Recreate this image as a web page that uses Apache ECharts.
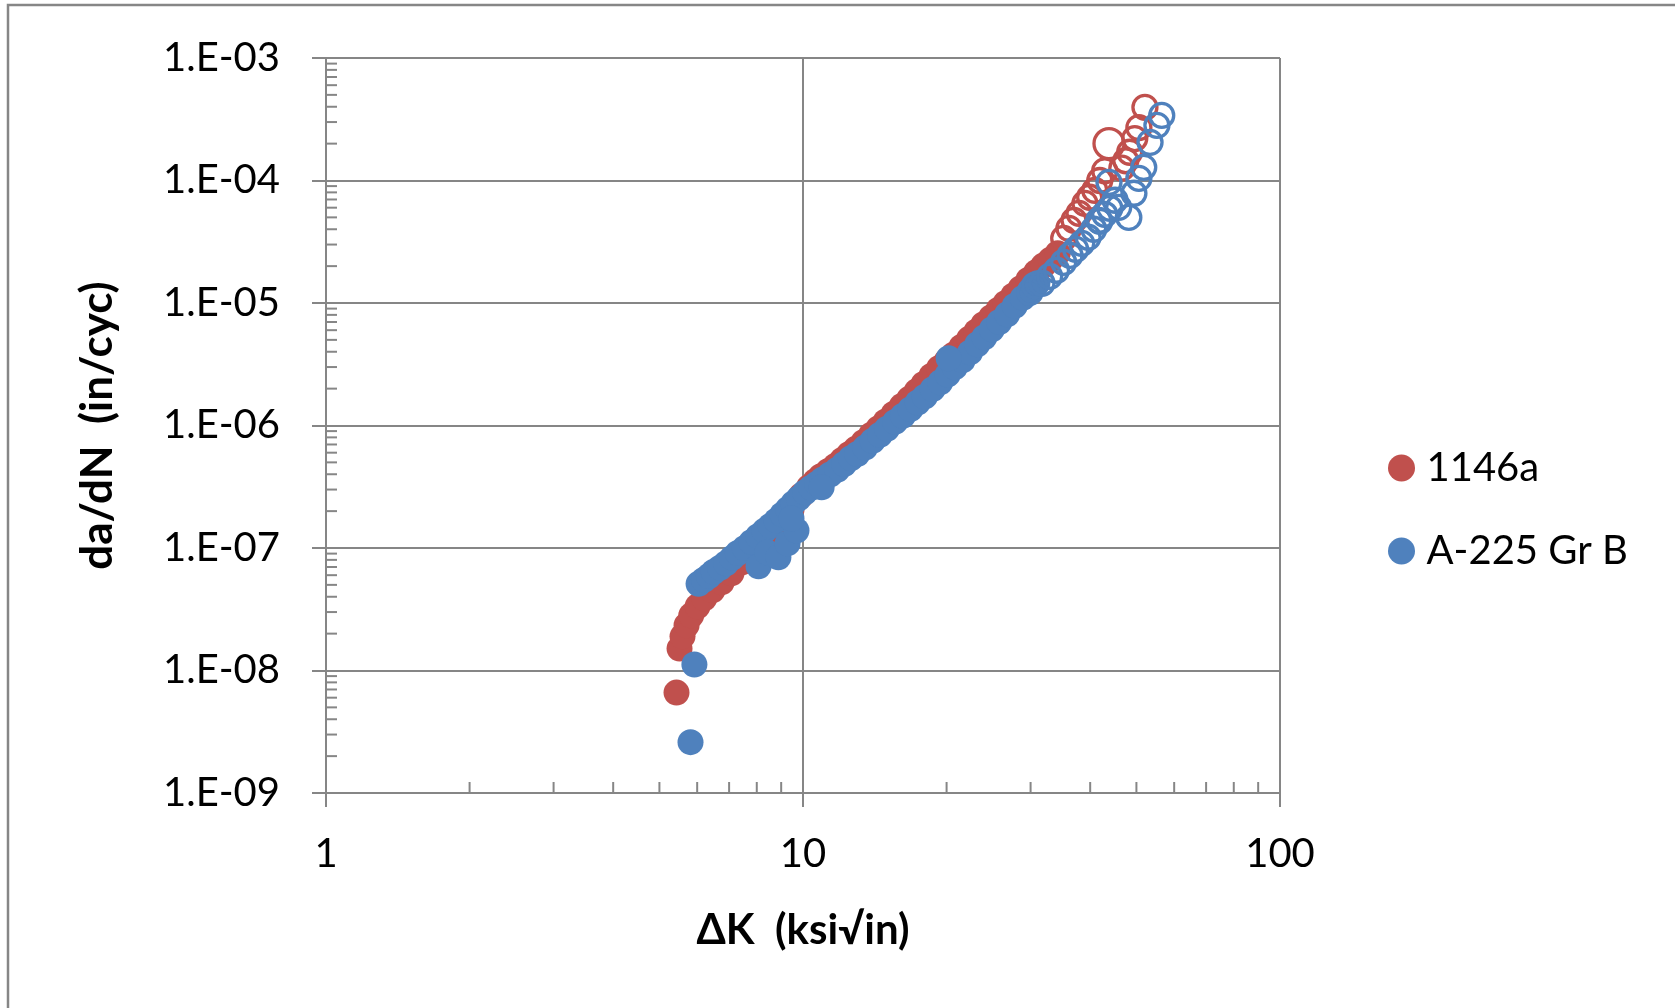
<!DOCTYPE html>
<html><head><meta charset="utf-8">
<script src="https://cdn.jsdelivr.net/npm/echarts@6.0.0/dist/echarts.min.js"></script>
<style>html,body{margin:0;padding:0;background:#fff}#c{width:1675px;height:1008px}</style>
</head><body><div id="c"></div>
<script>
// ---- data ----
const seriesNames = ['1146a', 'A-225 Gr B'];
const xTickLabels = ['1', '10', '100'];
const yTickLabels = ['1.E-09', '1.E-08', '1.E-07', '1.E-06', '1.E-05', '1.E-04', '1.E-03'];
const xTitle = 'ΔK  (ksi√in)';
const yTitle = 'da/dN  (in/cyc)';

// 1146a, filled markers [ΔK, da/dN]
const redSolid = [[5.43,6.6e-9],[5.51,1.51e-8],[5.59,1.90e-8],[5.70,2.34e-8],[5.83,2.82e-8],[6.01,3.34e-8],[6.21,3.88e-8],[6.46,4.51e-8],[6.75,5.24e-8],[7.08,6.21e-8],[7.43,7.6e-8],[7.80,9.0e-8],[8.18,1.07e-7],[8.59,1.28e-7],[9.01,1.58e-7],[9.46,2.05e-7],[9.93,2.70e-7],[10.3,3.15e-7],[10.6,3.50e-7],[10.9,3.85e-7],[11.3,4.25e-7],[11.7,4.70e-7],[12.1,5.25e-7],[12.5,5.85e-7],[12.9,6.45e-7],[13.4,7.35e-7],[13.9,8.40e-7],[14.4,9.50e-7],[14.9,1.08e-6],[15.5,1.25e-6],[16.1,1.44e-6],[16.7,1.65e-6],[17.3,1.90e-6],[17.9,2.18e-6],[18.6,2.55e-6],[19.3,2.95e-6],[20.0,3.35e-6],[20.7,3.80e-6],[21.5,4.40e-6],[22.3,5.10e-6],[23.1,5.85e-6],[23.9,6.70e-6],[24.8,7.65e-6],[25.7,8.80e-6],[26.6,1.00e-5],[27.6,1.15e-5],[28.6,1.32e-5],[29.7,1.55e-5],[30.8,1.78e-5],[31.9,2.02e-5],[33.0,2.25e-5],[34.2,2.55e-5]];
// 1146a, open markers
const redOpen = [[35.2,3.37e-5],[36.1,4.07e-5],[37.0,4.73e-5],[37.9,5.4e-5],[39.0,6.5e-5],[39.9,7.3e-5],[40.9,8.3e-5],[41.9,1.0e-4],[42.9,1.2e-4],[46.6,1.26e-4],[47.5,1.45e-4],[48.4,1.7e-4],[43.8,2.0e-4],[49.6,2.2e-4],[50.6,2.7e-4],[52.1,3.96e-4]];
// A-225 Gr B, filled markers
const blueSolid = [[5.81,2.6e-9],[5.92,1.12e-8],[6.04,5.1e-8],[6.2,5.5e-8],[6.35,5.9e-8],[6.5,6.4e-8],[6.7,6.9e-8],[6.9,7.5e-8],[7.1,8.3e-8],[7.3,9.1e-8],[7.55,1.0e-7],[7.8,1.12e-7],[8.05,1.25e-7],[8.3,1.38e-7],[8.55,1.52e-7],[8.8,1.68e-7],[9.05,1.88e-7],[9.3,2.08e-7],[9.55,2.32e-7],[9.8,2.55e-7],[10.1,2.85e-7],[10.4,3.10e-7],[10.7,3.35e-7],[11.0,3.62e-7],[11.4,3.98e-7],[11.8,4.35e-7],[12.2,4.85e-7],[12.6,5.40e-7],[13.0,5.85e-7],[13.5,6.60e-7],[14.0,7.50e-7],[14.5,8.40e-7],[15.0,9.40e-7],[15.6,1.07e-6],[16.2,1.20e-6],[16.8,1.36e-6],[17.4,1.54e-6],[18.0,1.72e-6],[18.7,1.98e-6],[19.4,2.25e-6],[20.1,2.60e-6],[20.8,2.98e-6],[21.6,3.40e-6],[22.4,3.95e-6],[23.2,4.60e-6],[24.0,5.25e-6],[24.9,6.10e-6],[25.8,7.00e-6],[26.8,8.10e-6],[27.8,9.50e-6],[28.9,1.10e-5],[30.0,1.28e-5],[31.0,1.45e-5],[8.07,7.1e-8],[8.42,9.2e-8],[8.88,8.4e-8],[9.28,1.09e-7],[9.69,1.39e-7],[9.46,1.74e-7],[10.94,3.13e-7],[20.2,3.54e-6]];
// A-225 Gr B, open markers
const blueOpen = [[29.9,1.22e-5],[30.6,1.39e-5],[31.7,1.45e-5],[32.9,1.65e-5],[34.0,1.85e-5],[35.2,2.15e-5],[36.3,2.45e-5],[37.3,2.74e-5],[38.4,3.07e-5],[39.6,3.44e-5],[40.7,4.0e-5],[41.9,4.65e-5],[42.9,5.3e-5],[44.0,5.93e-5],[45.1,6.9e-5],[41.7,4.73e-5],[45.9,6.04e-5],[48.2,5.0e-5],[43.8,9.66e-5],[49.4,7.87e-5],[50.6,1.04e-4],[51.8,1.28e-4],[53.4,2.05e-4],[55.2,2.82e-4],[56.5,3.40e-4]];

// ---- styling ----
const RED = '#C0504D', BLUE = '#4F81BD', GRID = '#868686';
const FONT = 'Lato';
const bigRedRing = 12; // index in redOpen drawn larger

// minor tick positions on log axes (axis decoration)
const minorMult = [2,3,4,5,6,7,8,9];
const yMinor = [], xMinor = [];
for (let e = -9; e < -3; e++) minorMult.forEach(m => yMinor.push([1, m * Math.pow(10, e)]));
for (let e = 0; e < 2; e++) minorMult.forEach(m => xMinor.push([m * Math.pow(10, e), 1e-9]));

const chart = echarts.init(document.getElementById('c'), null, {renderer: 'canvas'});
const axisLineStyle = {color: GRID, width: 2};
chart.setOption({
  animation: false,
  backgroundColor: '#fff',
  textStyle: {fontFamily: FONT},
  graphic: [{type: 'rect', shape: {x: 8, y: 5, width: 2000, height: 2000}, style: {fill: 'none', stroke: GRID, lineWidth: 2.5}, silent: true}],
  grid: {left: 326, top: 58, width: 954, height: 735},
  legend: {
    data: seriesNames, orient: 'vertical', left: 1383, top: 443,
    itemWidth: 40, itemHeight: 27, itemGap: 43, icon: 'circle',
    textStyle: {fontSize: 40, color: '#000', fontFamily: FONT},
    selectedMode: false
  },
  xAxis: {
    type: 'log', logBase: 10, min: 1, max: 100,
    name: xTitle, nameLocation: 'middle', nameGap: 116,
    nameTextStyle: {fontSize: 42, fontWeight: 'bold', color: '#000', fontFamily: FONT},
    axisLine: {show: true, lineStyle: axisLineStyle},
    axisTick: {show: true, length: 14, inside: false, lineStyle: axisLineStyle},
    splitLine: {show: true, lineStyle: axisLineStyle},
    axisLabel: {fontSize: 40, color: '#000', margin: 41, fontFamily: FONT,
      formatter: v => xTickLabels[Math.round(Math.log10(v))]}
  },
  yAxis: {
    type: 'log', logBase: 10, min: 1e-9, max: 1e-3,
    name: yTitle, nameLocation: 'middle', nameGap: 206,
    nameTextStyle: {fontSize: 44, fontWeight: 'bold', color: '#000', fontFamily: FONT},
    axisLine: {show: true, lineStyle: axisLineStyle},
    axisTick: {show: true, length: 14, inside: false, lineStyle: axisLineStyle},
    splitLine: {show: true, lineStyle: axisLineStyle},
    axisLabel: {fontSize: 40, color: '#000', margin: 46, fontFamily: FONT,
      formatter: v => yTickLabels[Math.round(Math.log10(v)) + 9]}
  },
  series: [
    {type: 'custom', name: 'yminor', data: yMinor, silent: true, z: 1,
      renderItem: (p, api) => { const c = api.coord([api.value(0), api.value(1)]);
        return {type: 'line', shape: {x1: c[0], y1: c[1], x2: c[0] + 11, y2: c[1]}, style: {stroke: GRID, lineWidth: 2}}; }},
    {type: 'custom', name: 'xminor', data: xMinor, silent: true, z: 1,
      renderItem: (p, api) => { const c = api.coord([api.value(0), api.value(1)]);
        return {type: 'line', shape: {x1: c[0], y1: c[1], x2: c[0], y2: c[1] - 11}, style: {stroke: GRID, lineWidth: 2}}; }},
    {type: 'scatter', name: seriesNames[0], data: redSolid, symbol: 'circle', symbolSize: 26,
      itemStyle: {color: RED, opacity: 1}, z: 3},
    {type: 'scatter', name: seriesNames[0] + ' (open)', data: redOpen, symbol: 'circle',
      symbolSize: (v, p) => p.dataIndex === bigRedRing ? 30 : 24,
      itemStyle: {color: 'rgba(255,255,255,0)', borderColor: RED, borderWidth: 3.3, opacity: 1}, z: 3},
    {type: 'scatter', name: seriesNames[1], data: blueSolid, symbol: 'circle', symbolSize: 26,
      itemStyle: {color: BLUE, opacity: 1}, z: 4},
    {type: 'scatter', name: seriesNames[1] + ' (open)', data: blueOpen, symbol: 'circle', symbolSize: 24,
      itemStyle: {color: 'rgba(255,255,255,0)', borderColor: BLUE, borderWidth: 3.3, opacity: 1}, z: 4}
  ]
});
</script></body></html>
